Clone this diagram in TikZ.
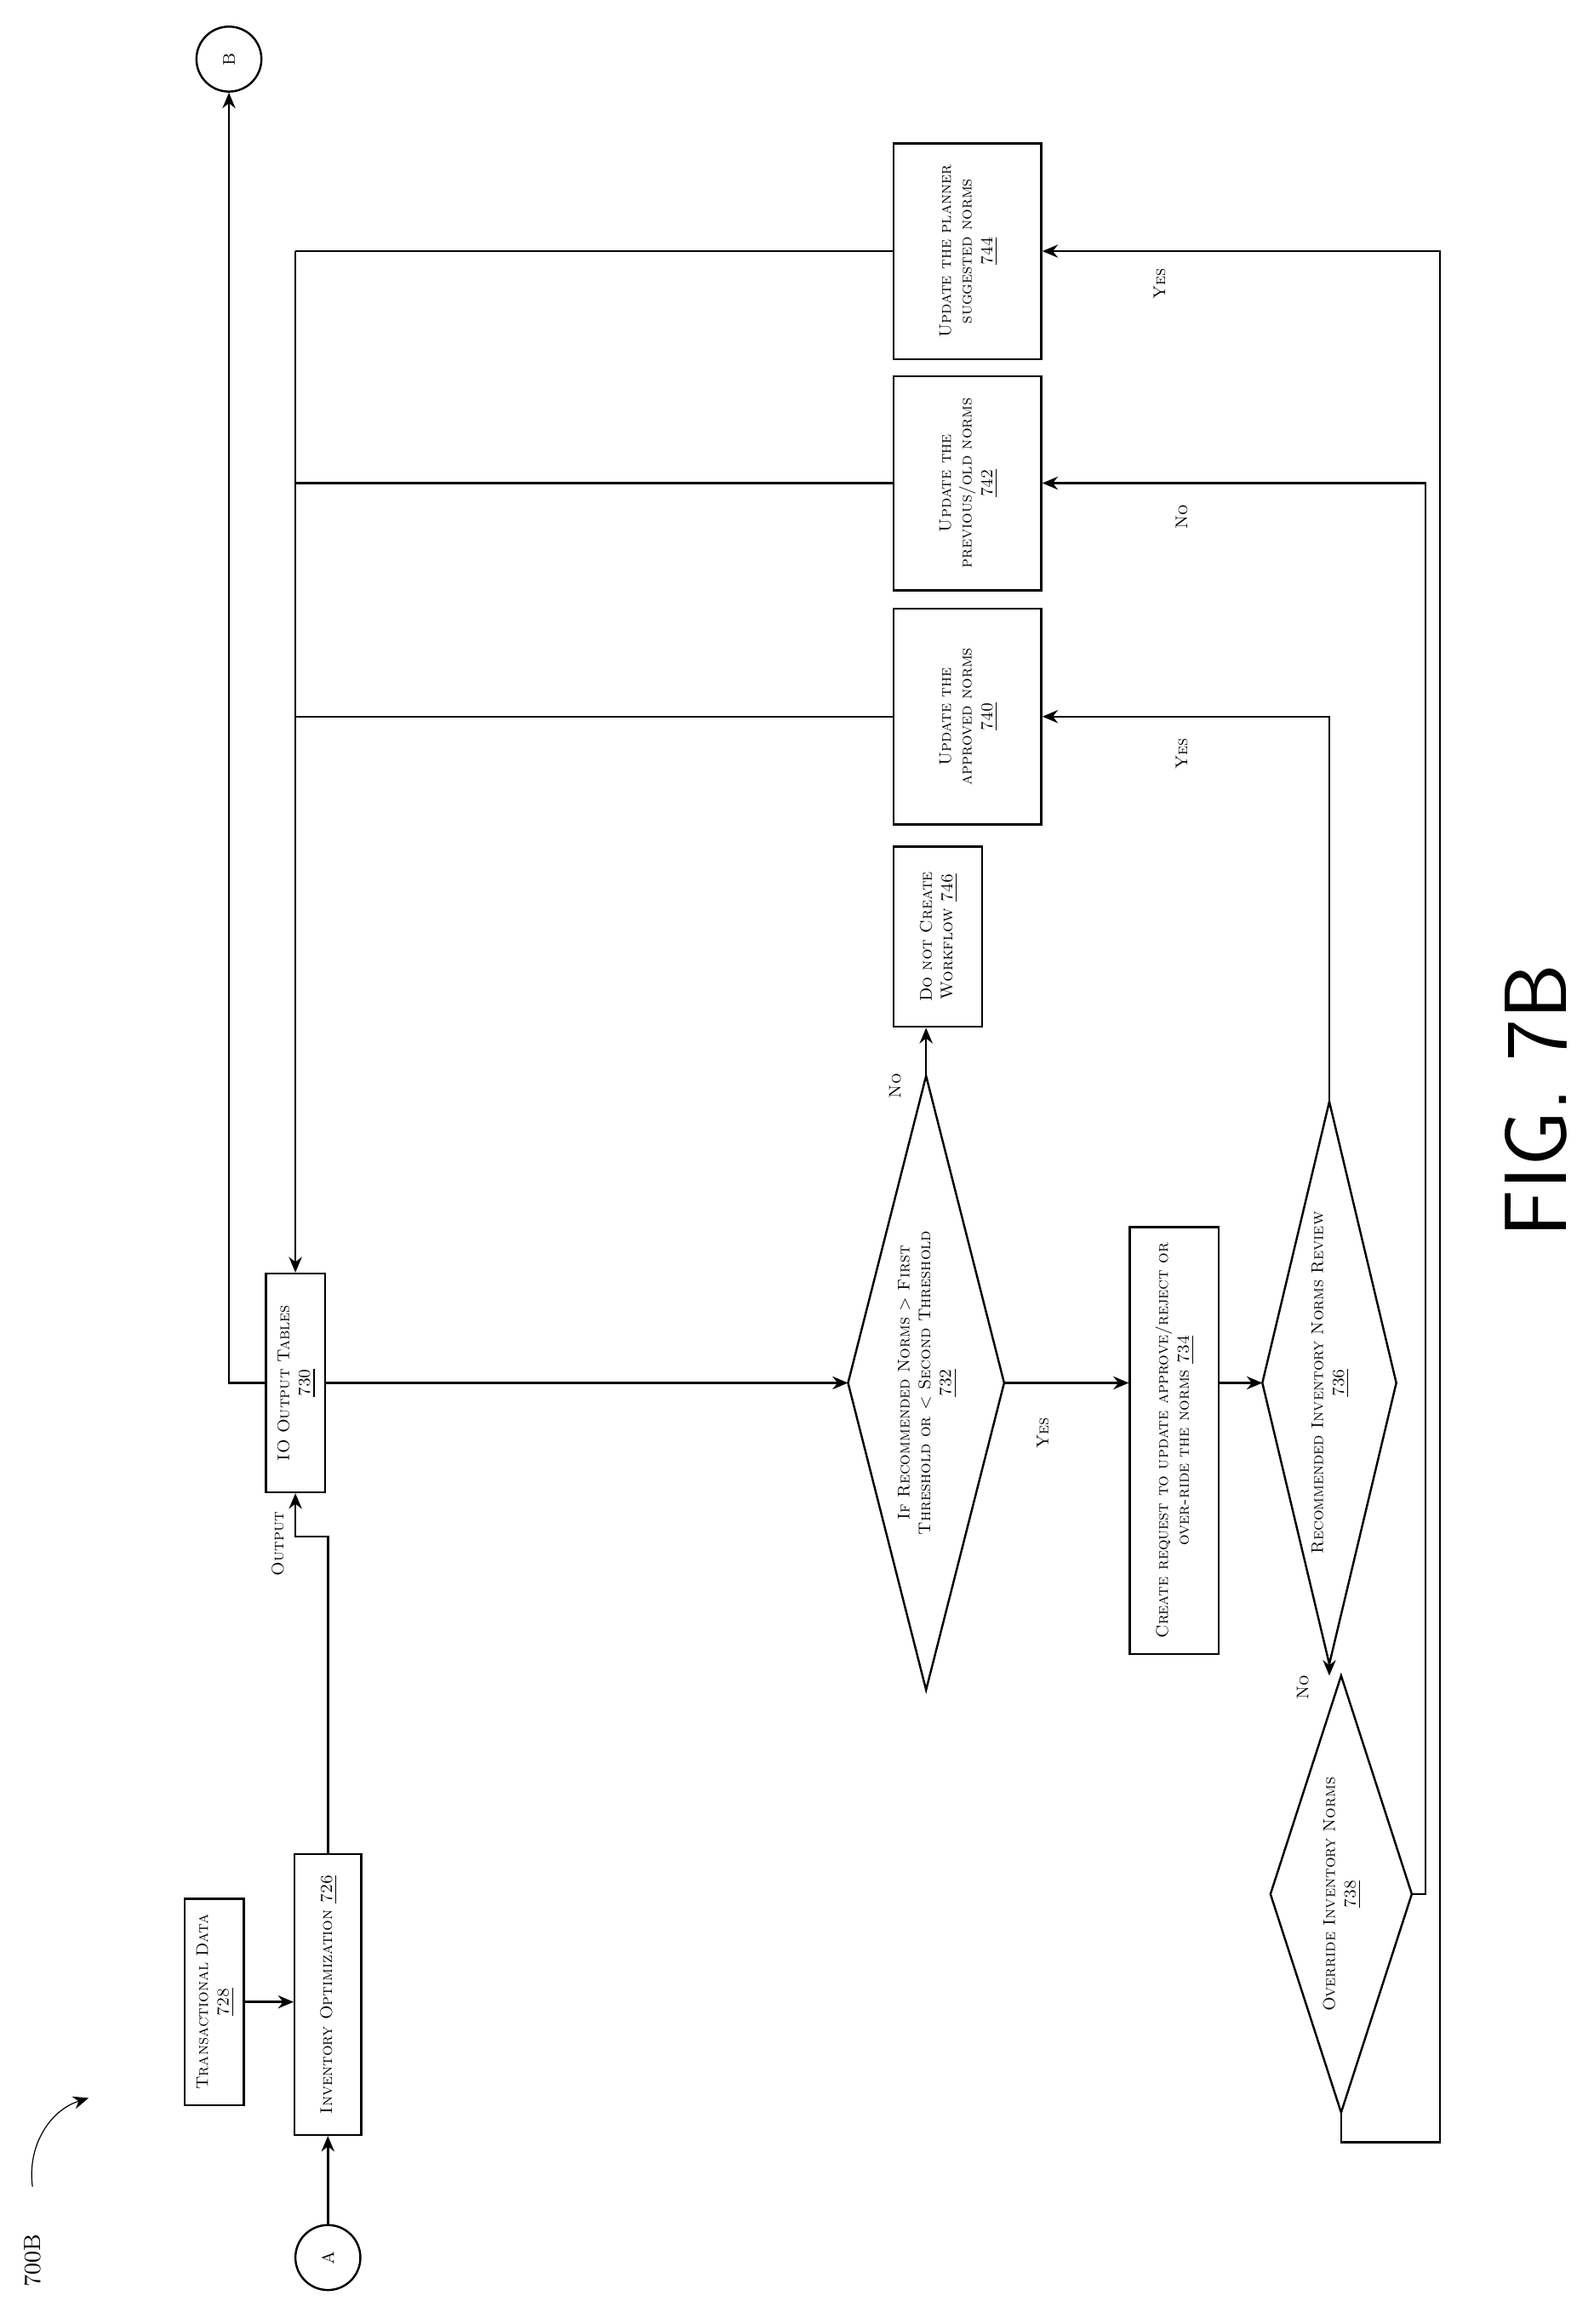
\documentclass[tikz,border=0pt]{standalone}
\usetikzlibrary{shapes.geometric,arrows.meta,calc}
\begin{document}
\begin{tikzpicture}[x=0.02cm,y=-0.02cm,
  every node/.style={font=\fontsize{6.5}{8}\selectfont\scshape},
  bx/.style={draw,thick,inner sep=0pt,align=center},
  dm/.style={inner sep=0pt,align=center},
  ln/.style={thick},
  ar/.style={thick,-{Stealth[length=6pt,width=5pt]}},
  lb/.style={font=\fontsize{6.5}{8}\selectfont\scshape,rotate=90}]
\useasboundingbox (0,0) rectangle (1079,1573);
\newcommand{\rb}[1]{\rotatebox{90}{\begin{tabular}{c}#1\end{tabular}}}
\newcommand{\dia}[1]{\draw[thick] (#1.north) -- (#1.east) -- (#1.south) -- (#1.west) -- cycle;}
\node[bx,minimum width=2cm,minimum height=2.92cm] (b744) at (655,170) {\rb{Update the planner\\suggested norms\\\underline{744}}};
\node[bx,minimum width=2cm,minimum height=2.9cm] (b742) at (655,327) {\rb{Update the\\previous/old norms\\\underline{742}}};
\node[bx,minimum width=2cm,minimum height=2.92cm] (b740) at (655,485) {\rb{Update the\\approved norms\\\underline{740}}};
\node[bx,minimum width=1.2cm,minimum height=2.44cm] (b746) at (635,634) {\rb{Do not Create\\Workflow \underline{746}}};
\node[bx,minimum width=0.8cm,minimum height=2.96cm] (b730) at (200,936) {\rb{IO Output Tables\\\underline{730}}};
\node[dm,minimum width=2.1cm,minimum height=8.3cm] (d732) at (627,936) {\rb{If Recommended Norms > First\\Threshold or < Second Threshold\\\underline{732}}};
\dia{d732}
\node[bx,minimum width=1.2cm,minimum height=4.8cm] (b734) at (795,975) {\rb{Create request to update approve/reject or\\over-ride the norms \underline{734}}};
\node[dm,minimum width=1.8cm,minimum height=7.6cm] (d736) at (900,936) {\rb{Recommended Inventory Norms Review\\\underline{736}}};
\dia{d736}
\node[dm,minimum width=1.9cm,minimum height=5.9cm] (d738) at (908,1282) {\rb{Override Inventory Norms\\\underline{738}}};
\dia{d738}
\node[bx,minimum width=0.9cm,minimum height=3.8cm] (b726) at (222,1350) {\rb{Inventory Optimization \underline{726}}};
\node[bx,minimum width=0.8cm,minimum height=1.8cm] (b728) at (145,1355) {\rb{Transactional Data\\\underline{728}}};
\node[draw,thick,circle,minimum size=0.88cm,inner sep=0pt] (A) at (222,1528) {\rotatebox{90}{A}};
\node[draw,thick,circle,minimum size=0.88cm,inner sep=0pt] (B) at (155,40) {\rotatebox{90}{B}};
\node[rotate=90,font=\fontsize{9}{10}\selectfont] (lab) at (22,1530) {700B};
\coordinate (ls) at (22,1480);
\coordinate (le) at (60,1420);
\draw[ar,thin] (ls) to[bend left=40] (le);
\node[rotate=90,font=\fontsize{34}{36}\selectfont\sffamily] (fig) at (1040,745) {FIG. 7B};
% connectors
\draw[ar] (A) -- (b726.south);
\draw[ar] (b728.east) -- (b728.east -| b726.west);
\coordinate (o1) at (222,1040);
\coordinate (o2) at (200,1040);
\draw[ar] (b726.north) -- (o1) -- (o2) -- (b730.south);
\node[lb] (out) at (188,1045) {Output};
\draw[ar] (b730.east) -- (d732.west);
\coordinate (bl) at (155,936);
\draw[ar] (b730.west) -- (bl) -- (B.south);
\draw[ln] (b744.west) -- (b744.west -| b730.north);
\draw[ln] (b742.west) -- (b742.west -| b730.north);
\draw[ln] (b740.west) -- (b740.west -| b730.north);
\draw[ar] (b744.west -| b730.north) -- (b730.north);
\draw[ar] (d732.north) -- (d732.north |- b746.south);
\node[lb] (n1) at (606,735) {No};
\draw[ar] (d732.east) -- (d732.east -| b734.west);
\node[lb] (y1) at (706,970) {Yes};
\draw[ar] (d736.west -| b734.east) -- (d736.west);
\draw[ar] (d736.north) -- (d736.north |- b740.east) -- (b740.east);
\node[lb] (y2) at (800,510) {Yes};
\draw[ar] (d736.south) -- (d736.south |- d738.north);
\node[lb] (n2) at (882,1142) {No};
\coordinate (c1) at (965,1282);
\draw[ar] (d738.east) -- (c1) -- (c1 |- b742.east) -- (b742.east);
\node[lb] (n3) at (800,350) {No};
\coordinate (c2) at (908,1450);
\coordinate (c3) at (975,1450);
\draw[ar] (d738.south) -- (c2) -- (c3) -- (c3 |- b744.east) -- (b744.east);
\node[lb] (y3) at (785,192) {Yes};
\end{tikzpicture}
\end{document}
